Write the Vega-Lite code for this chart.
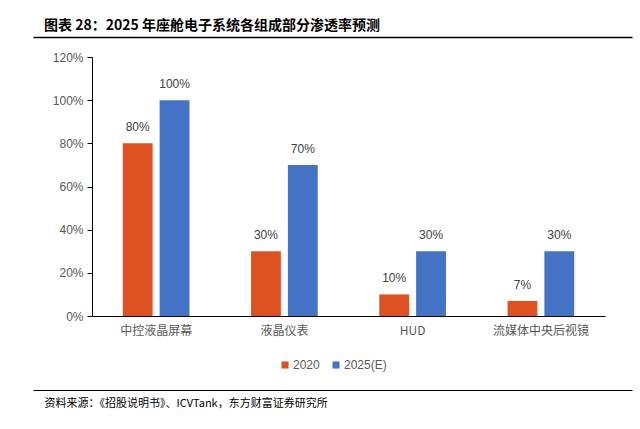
{
  "$schema": "https://vega.github.io/schema/vega-lite/v6.json",
  "width": 513,
  "height": 259,
  "autosize": {"type": "none"},
  "padding": {"left": 92, "top": 57, "right": 35, "bottom": 113},
  "background": "white",
  "config": {"view": {"stroke": null}, "font": "Noto Sans CJK SC"},
  "title": {
    "text": "图表 28：2025 年座舱电子系统各组成部分渗透率预测",
    "anchor": "start",
    "frame": "group",
    "dx": -48,
    "offset": 4,
    "font": "Noto Sans CJK SC",
    "fontSize": 14,
    "fontWeight": "bold",
    "color": "#000000"
  },
  "data": {
    "values": [
      {"category": "中控液晶屏幕", "series": "2020", "value": 0.8},
      {"category": "中控液晶屏幕", "series": "2025(E)", "value": 1.0},
      {"category": "液晶仪表", "series": "2020", "value": 0.3},
      {"category": "液晶仪表", "series": "2025(E)", "value": 0.7},
      {"category": "HUD", "series": "2020", "value": 0.1},
      {"category": "HUD", "series": "2025(E)", "value": 0.3},
      {"category": "流媒体中央后视镜", "series": "2020", "value": 0.07},
      {"category": "流媒体中央后视镜", "series": "2025(E)", "value": 0.3}
    ]
  },
  "layer": [
    {
      "encoding": {
        "x": {
          "field": "category",
          "type": "nominal",
          "sort": null,
          "scale": {"paddingInner": 0.48, "paddingOuter": 0.24},
          "axis": {
            "title": null,
            "labelAngle": 0,
            "ticks": false,
            "domainColor": "#000000",
            "domainWidth": 1,
            "labelFont": "Noto Sans CJK SC",
            "labelFontSize": 12,
            "labelColor": "#595959",
            "labelPadding": 9
          }
        },
        "xOffset": {
          "field": "series",
          "type": "nominal",
          "scale": {"paddingInner": 0.19}
        },
        "y": {
          "field": "value",
          "type": "quantitative",
          "scale": {"domain": [0, 1.2]},
          "axis": {
            "title": null,
            "values": [0, 0.2, 0.4, 0.6, 0.8, 1.0, 1.2],
            "format": ".0%",
            "grid": false,
            "domainColor": "#000000",
            "tickColor": "#000000",
            "tickSize": 5,
            "labelFont": "Liberation Sans",
            "labelFontSize": 12,
            "labelColor": "#595959",
            "labelPadding": 4
          }
        }
      },
      "layer": [
        {
          "mark": {"type": "bar"},
          "encoding": {
            "color": {
              "field": "series",
              "type": "nominal",
              "scale": {"domain": ["2020", "2025(E)"], "range": ["#DE5221", "#4472C4"]},
              "legend": {
                "title": null,
                "orient": "none",
                "direction": "horizontal",
                "legendX": 187,
                "legendY": 302,
                "symbolType": "square",
                "symbolSize": 50,
                "symbolStrokeWidth": 0,
                "labelFont": "Liberation Sans",
                "labelFontSize": 12,
                "labelColor": "#595959",
                "labelOffset": 2,
                "columnPadding": 10
              }
            }
          }
        },
        {
          "mark": {"type": "text", "baseline": "bottom", "dy": -9, "font": "Liberation Sans", "fontSize": 12, "color": "#404040"},
          "encoding": {
            "text": {"field": "value", "type": "quantitative", "format": ".0%"}
          }
        }
      ]
    },
    {
      "mark": {"type": "text", "text": ""},
      "encoding": {
        "x": {
          "field": "category",
          "type": "nominal",
          "sort": null,
          "scale": {"range": [-59, 540]},
          "axis": {
            "orient": "top",
            "offset": 20,
            "title": null,
            "labels": false,
            "ticks": false,
            "domainColor": "#000000",
            "domainWidth": 1.5
          }
        }
      }
    },
    {
      "mark": {"type": "text", "text": ""},
      "encoding": {
        "x": {
          "field": "category",
          "type": "nominal",
          "sort": null,
          "scale": {"range": [-59, 540]},
          "axis": {
            "orient": "bottom",
            "offset": 74,
            "title": "资料来源：《招股说明书》、ICVTank，东方财富证券研究所",
            "titleX": -48,
            "titleY": 13,
            "titleAlign": "left",
            "titleAnchor": null,
            "titleBaseline": "middle",
            "titleFont": "Noto Sans CJK SC",
            "titleFontSize": 11,
            "titleFontWeight": "normal",
            "titleColor": "#000000",
            "labels": false,
            "ticks": false,
            "domainColor": "#000000",
            "domainWidth": 1
          }
        }
      }
    }
  ],
  "resolve": {"scale": {"x": "independent"}, "axis": {"x": "independent"}}
}
